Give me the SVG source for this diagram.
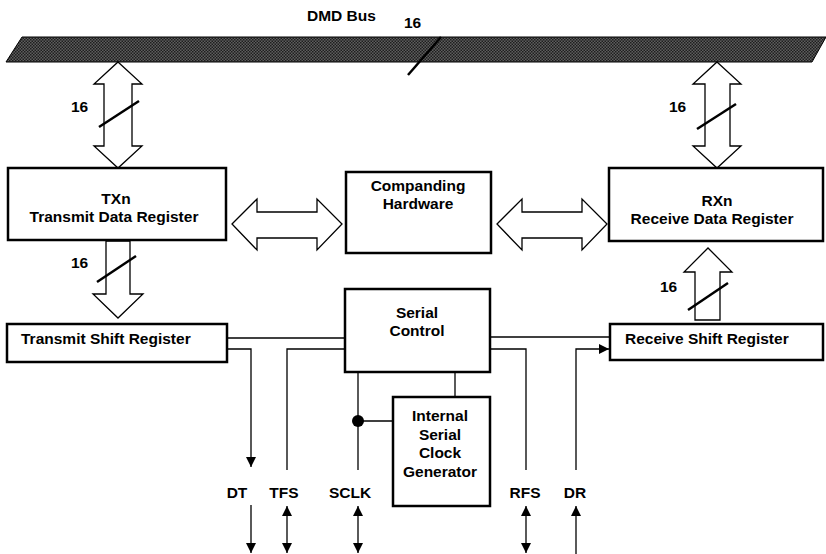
<svg xmlns="http://www.w3.org/2000/svg" width="826" height="554" viewBox="0 0 826 554">
<style>
.box{fill:#fff;stroke:#000;stroke-width:2.5}
.big{fill:#fff;stroke:#000;stroke-width:1.3;stroke-linejoin:miter}
.t{font-family:"Liberation Sans",Arial,sans-serif;font-weight:bold;font-size:15.5px;fill:#000}
.m{text-anchor:middle}
.ln{fill:none;stroke:#000;stroke-width:1.3}
.sl{stroke:#000;stroke-width:2.5}
</style>
<defs>
<pattern id="dots" width="3" height="3" patternUnits="userSpaceOnUse">
<rect width="3" height="3" fill="#5e5e5e"/>
<rect width="1.5" height="1.5" fill="#1e1e1e"/>
<rect x="1.5" y="1.5" width="1.5" height="1.5" fill="#1e1e1e"/>
</pattern>
<marker id="ah" viewBox="0 0 10 10" refX="10" refY="5" markerWidth="10" markerHeight="10" markerUnits="userSpaceOnUse" orient="auto-start-reverse">
<path d="M0,0 L10,5 L0,10 z" fill="#000"/>
</marker>
</defs>

<g id="bus">
<polygon points="22,37 826,37 812,62 6,62" fill="url(#dots)" stroke="#000" stroke-width="1"/>
<text class="t" x="307" y="21">DMD Bus</text>
<text class="t" x="404" y="28">16</text>
<line class="sl" x1="408" y1="75" x2="441" y2="37"/>
</g>

<g id="connectors">
<!-- bus to TXn -->
<polygon class="big" points="118,62 142,84 132,84 132,146 142,146 118,168 94,146 104,146 104,84 94,84"/>
<text class="t" x="71" y="112">16</text>
<line class="sl" x1="99" y1="127" x2="139" y2="101"/>
<!-- bus to RXn -->
<polygon class="big" points="717,62 741,84 730,84 730,146 741,146 717,168 693,146 705,146 705,84 693,84"/>
<text class="t" x="669" y="112">16</text>
<line class="sl" x1="697" y1="129" x2="736" y2="104"/>
<!-- TXn <-> companding -->
<polygon class="big" points="232,224 257,199 257,212 317,212 317,199 342,224 317,250 317,238 257,238 257,250"/>
<!-- companding <-> RXn -->
<polygon class="big" points="497,224 522,199 522,212 582,212 582,199 607,224 582,250 582,238 522,238 522,250"/>
<!-- TXn to shift -->
<polygon class="big" points="106,241 130,241 130,294 143,294 118,318 93,294 106,294"/>
<text class="t" x="71" y="268">16</text>
<line class="sl" x1="97" y1="282" x2="136" y2="256"/>
<!-- receive shift to RXn -->
<polygon class="big" points="695,320 720,320 720,272 732,272 708,248 684,272 695,272"/>
<text class="t" x="660" y="292">16</text>
<line class="sl" x1="688" y1="310" x2="728" y2="283"/>
<!-- serial lines -->
<line class="ln" x1="227" y1="338" x2="345" y2="338"/>
<polyline class="ln" points="227,349 251,349 251,467" marker-end="url(#ah)"/>
<polyline class="ln" points="345,349 287,349 287,470"/>
<line class="ln" x1="490" y1="337" x2="610" y2="337"/>
<polyline class="ln" points="490,349 526,349 526,470"/>
<polyline class="ln" points="576,470 576,349 609,349" marker-end="url(#ah)"/>
<line class="ln" x1="358" y1="372" x2="358" y2="470"/>
<circle cx="358" cy="421" r="6" fill="#000"/>
<line class="ln" x1="358" y1="421" x2="393" y2="421"/>
<line class="ln" x1="455" y1="372" x2="455" y2="397"/>
<!-- pin arrows -->
<line class="ln" x1="251" y1="505" x2="251" y2="553" marker-end="url(#ah)"/>
<line class="ln" x1="287" y1="506" x2="287" y2="553" marker-start="url(#ah)" marker-end="url(#ah)"/>
<line class="ln" x1="358" y1="506" x2="358" y2="553" marker-start="url(#ah)" marker-end="url(#ah)"/>
<line class="ln" x1="526" y1="506" x2="526" y2="553" marker-start="url(#ah)" marker-end="url(#ah)"/>
<line class="ln" x1="576" y1="506" x2="576" y2="554" marker-start="url(#ah)"/>
</g>

<g id="txn">
<rect class="box" x="8" y="168" width="218" height="72"/>
<text class="t m" x="116" y="204">TXn</text>
<text class="t m" x="114" y="222">Transmit Data Register</text>
</g>
<g id="companding">
<rect class="box" x="346" y="172" width="145" height="81"/>
<text class="t m" x="418" y="191">Companding</text>
<text class="t m" x="418" y="209">Hardware</text>
</g>
<g id="rxn">
<rect class="box" x="609" y="168" width="214" height="73"/>
<text class="t m" x="717" y="206">RXn</text>
<text class="t m" x="712" y="224">Receive Data Register</text>
</g>
<g id="txshift">
<rect class="box" x="7" y="324" width="220" height="38"/>
<text class="t" x="21" y="344">Transmit Shift Register</text>
</g>
<g id="serialcontrol">
<rect class="box" x="345" y="289" width="145" height="83"/>
<text class="t m" x="417" y="318">Serial</text>
<text class="t m" x="417" y="336">Control</text>
</g>
<g id="rxshift">
<rect class="box" x="610" y="324" width="213" height="36"/>
<text class="t" x="625" y="344">Receive Shift Register</text>
</g>
<g id="clockgen">
<rect class="box" x="393" y="397" width="97" height="109"/>
<text class="t m" x="440" y="421">Internal</text>
<text class="t m" x="440" y="440">Serial</text>
<text class="t m" x="440" y="458">Clock</text>
<text class="t m" x="440" y="477">Generator</text>
</g>
<g id="pins">
<text class="t m" x="237" y="498">DT</text>
<text class="t m" x="284" y="498">TFS</text>
<text class="t m" x="350" y="498">SCLK</text>
<text class="t m" x="525" y="498">RFS</text>
<text class="t m" x="575" y="498">DR</text>
</g>
</svg>
